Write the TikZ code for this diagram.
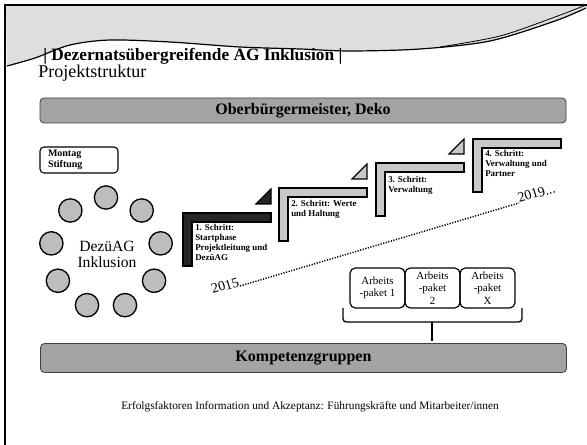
\documentclass[tikz,border=0pt]{standalone}
\usepackage{fontspec}
\setmainfont{Liberation Serif}
\definecolor{headfill}{gray}{0.87}
\definecolor{barfill}{gray}{0.64}
\definecolor{dotfill}{gray}{0.74}
\definecolor{stepfill}{gray}{0.79}
\definecolor{stepdark}{gray}{0.15}
\begin{document}
\begin{tikzpicture}[x=0.75pt,y=-0.75pt,
  band/.style={draw=black!75, fill=barfill, rounded corners=3pt, line width=0.6pt,
    minimum width=394.5pt, inner sep=0pt, font=\bfseries\fontsize{12}{14}\selectfont},
  member/.style={circle, draw, line width=1pt, fill=dotfill, minimum size=17.5pt, inner sep=0pt},
  steptext/.style={anchor=north west, align=left, inner sep=0pt, font=\bfseries\fontsize{6.7}{7.5}\selectfont},
  pkg/.style={draw, line width=0.9pt, rounded corners=4pt, minimum width=41.25pt,
    minimum height=30pt, inner sep=0pt, align=center, font=\fontsize{8.2}{9.4}\selectfont},
  stepbar/.style={draw=black, line width=0.8pt, fill=stepfill},
  stepbarhi/.style={draw=black, line width=0.8pt, fill=stepdark},
  yearline/.style={line width=1.1pt, dash pattern=on 0.9pt off 1.1pt},
  yeartext/.style={inner sep=0pt, rotate=16.3, font=\fontsize{10.5}{12}\selectfont},
]
\useasboundingbox (0,0) rectangle (587,445);
\fill[white] (0,0) rectangle (587,445);

% header band with the wave
\fill[headfill] (6,6) -- (587,6) -- plot[smooth] coordinates
  {(586,8) (555,21) (490,41) (420,49) (350,51) (300,49) (240,47) (170,42) (110,40) (70,45) (35,58) (7,66)} -- cycle;
\draw[line width=0.9pt] plot[smooth] coordinates
  {(7,66) (35,58) (70,45) (110,40) (170,42) (240,47) (300,49) (350,51) (420,49) (490,41) (555,21) (586,8)};
\draw[line width=0.6pt] plot[smooth] coordinates {(440,47) (500,36) (555,17) (586,5)};

% frame
\draw[line width=1.6pt] (5,445) -- (5,5) -- (587,5);

% heading
\node[anchor=base west, inner sep=0pt, font=\bfseries\fontsize{13}{15}\selectfont] (title) at (43,61)
  {| Dezernatsübergreifende AG Inklusion |};
\node[anchor=base west, inner sep=0pt, font=\fontsize{13.5}{15}\selectfont] (sub) at (38,78) {Projektstruktur};

% top band
\node[band, minimum height=18.75pt] (obm) at (303,110.5) {Oberbürgermeister, Deko};

% Montag Stiftung
\node[draw, line width=0.8pt, rounded corners=3pt, minimum width=58.5pt, minimum height=19.5pt,
  inner xsep=6pt, inner ysep=0pt, text width=46.5pt, align=left,
  font=\bfseries\fontsize{7.5}{8.25}\selectfont] (montag) at (79,160) {Montag\\Stiftung};

% ring of members
\foreach \a [count=\i] in {90,50,10,-30,-70,-110,-150,170,130}
  \node[member] (m\i) at ({106+55.5*cos(\a)},{253-55.5*sin(\a)}) {};
\node[align=center, inner sep=0pt, font=\fontsize{11.7}{12}\selectfont] (dez) at (107,254) {DezüAG\\Inklusion};

% staircase of steps
\draw[stepbarhi] (183,213) -- ++(88,0) -- ++(0,9) -- ++(-79,0) -- ++(0,44) -- ++(-9,0) -- cycle;
\draw[stepbar] (279,188) -- ++(88,0) -- ++(0,9) -- ++(-79,0) -- ++(0,44) -- ++(-9,0) -- cycle;
\draw[stepbar] (376,163) -- ++(88,0) -- ++(0,9) -- ++(-79,0) -- ++(0,44) -- ++(-9,0) -- cycle;
\draw[stepbar] (473,139) -- ++(88,0) -- ++(0,9) -- ++(-79,0) -- ++(0,44) -- ++(-9,0) -- cycle;

\fill[stepdark, draw=black, line width=0.8pt] (256,204) -- (271,204) -- (271,189) -- cycle;
\draw[stepbar] (352,179) -- (367,179) -- (367,164) -- cycle;
\draw[stepbar] (449,154) -- (464,154) -- (464,139) -- cycle;

\node[steptext] (s1) at (195,224) {1. Schritt:\\Startphase\\Projektleitung und\\DezüAG};
\node[steptext] (s2) at (291,200) {2. Schritt: Werte\\und Haltung};
\node[steptext] (s3) at (388,176) {3. Schritt:\\Verwaltung};
\node[steptext] (s4) at (485,150) {4. Schritt:\\Verwaltung und\\Partner};

% time line
\coordinate (t0) at (240,286);
\coordinate (t1) at (519,203);
\draw[yearline] (t0) -- (t1);
\node[yeartext, anchor=base east] (y0) at (t0) {2015};
\node[yeartext, anchor=base west] (y1) at (t1) {2019...};

% work packages
\node[pkg] (ap1) at (377.5,288) {Arbeits\\-paket 1};
\node[pkg] (ap2) at (432.5,288) {Arbeits\\-paket\\2};
\node[pkg] (ap3) at (487.5,288) {Arbeits\\-paket\\X};

% brace under the packages
\coordinate (bl) at (343,308);
\coordinate (br) at (522,308);
\coordinate (bm) at (432,322);
\coordinate (bt) at (432,341);
\draw[line width=1pt, rounded corners=2.5pt] (bl) -- (bl |- bm) -- (br |- bm) -- (br);
\draw[line width=1pt] (bm) -- (bt);

% bottom band
\node[band, minimum height=21.75pt] (komp) at (303.5,358) {Kompetenzgruppen};

\node[inner sep=0pt, font=\fontsize{8.5}{10}\selectfont] (foot) at (310,407)
  {Erfolgsfaktoren Information und Akzeptanz: Führungskräfte und Mitarbeiter/innen};
\end{tikzpicture}
\end{document}
